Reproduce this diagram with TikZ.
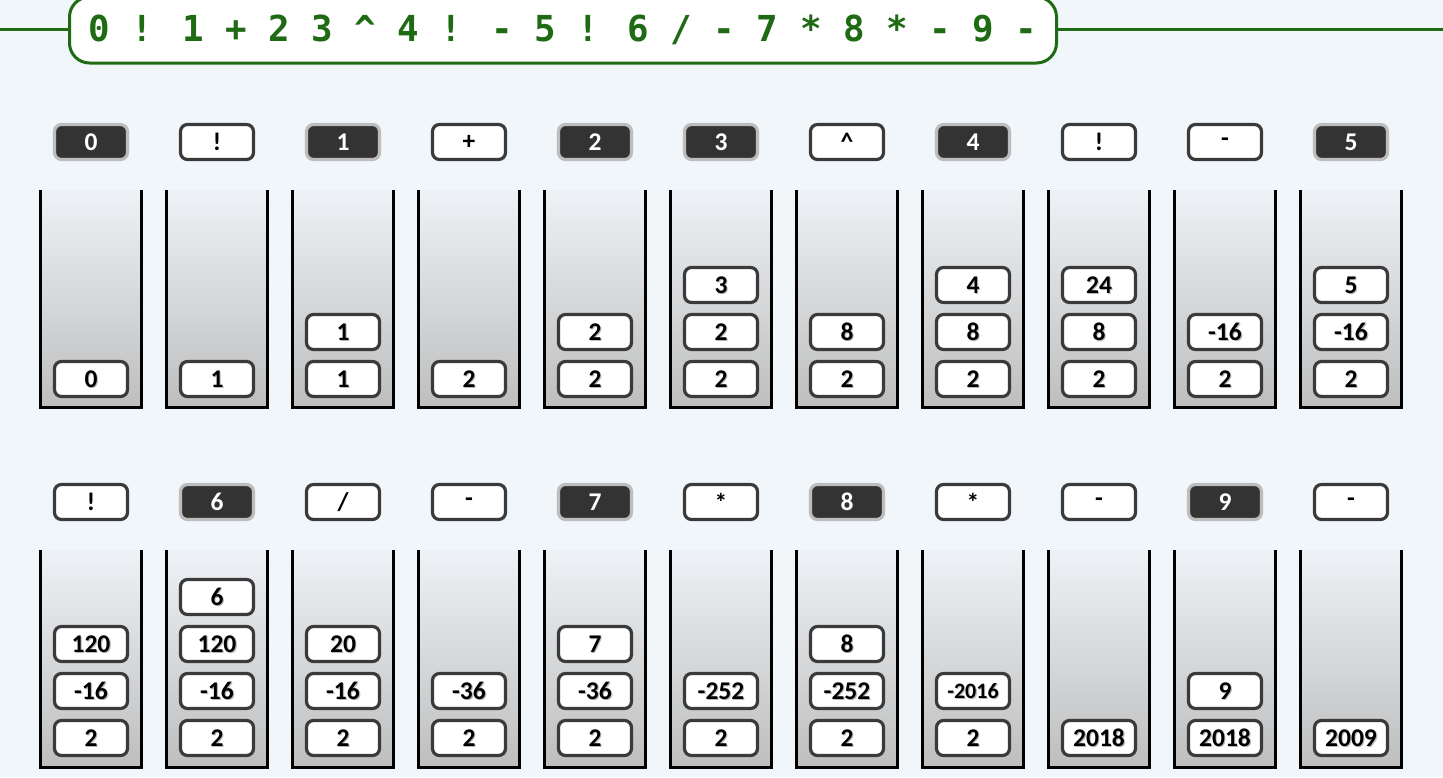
\documentclass[tikz,border=0pt]{standalone}
\usepackage{fontspec}
\setmainfont{Carlito}
\newfontfamily\titlefont{DejaVu Sans Mono}
\definecolor{bg}{HTML}{F1F6FB}
\definecolor{ttl}{HTML}{1E6B14}
\definecolor{itemborder}{HTML}{3A3A3A}
\definecolor{darktok}{HTML}{333333}
\definecolor{tokrim}{HTML}{BDBDBD}
\definecolor{stacktop}{HTML}{EEF2F6}
\definecolor{stackbot}{HTML}{BEBEBE}
\newcommand\smallnum[1]{{\fontsize{22}{22}\selectfont #1}}
\newcommand\slashsym{/}
\begin{document}
\begin{tikzpicture}[x=1pt,y=-1pt,
  boxbase/.style={rectangle, rounded corners=7, line width=3.2, minimum width=73, minimum height=35, inner sep=0, font=\fontsize{25.5}{25.5}\selectfont\bfseries},
  tokdark/.style={boxbase, fill=darktok, draw=tokrim, text=white},
  toklight/.style={boxbase, fill=white, draw=itemborder, text=black},
  item/.style={boxbase, fill=white, draw=itemborder},
  itemtext/.style={inner sep=0, text=black, font=\fontsize{25.5}{25.5}\selectfont\bfseries},
  itemshadow/.style={itemtext, text=black!28, xshift=1.1pt, yshift=-1.1pt},
  stackbox/.style={rectangle, minimum width=101, minimum height=217, inner sep=0, top color=stacktop, bottom color=stackbot, draw=none},
  wall/.style={line width=3, black},
  titlebox/.style={rectangle, rounded corners=20, draw=ttl, line width=3, fill=white, minimum width=987, minimum height=66, inner sep=0, text=ttl, font=\titlefont\bfseries\fontsize{35.8}{35.8}\selectfont},
  titleline/.style={draw=ttl, line width=3}]
\fill[bg] (0,0) rectangle (1443,777);
\useasboundingbox (0,0) rectangle (1443,777);
% title
\node[titlebox] (title) at (563,30) {0 ! 1 + 2 3 \textasciicircum{} 4 ! - 5 ! 6 / - 7 * 8 * - 9 -};
\coordinate (lend) at (0,29);
\coordinate (rend) at (1443,29);
\draw[titleline] (lend) -- (lend -| title.west);
\draw[titleline] (title.east |- rend) -- (rend);
% row 1 tokens
\foreach \t/\k [count=\i from 0] in {0/tokdark, !/toklight, 1/tokdark, +/toklight, 2/tokdark, 3/tokdark, \textasciicircum/toklight, 4/tokdark, !/toklight, -/toklight, 5/tokdark}
  \node[\k] (ta\i) at (91+126*\i, 142) {\t};
% row 1 stacks
\foreach \stk [count=\i from 0] in {{0},{1},{1,1},{2},{2,2},{2,2,3},{2,8},{2,8,4},{2,8,24},{2,-16},{2,-16,5}} {
  \node[stackbox] (sa\i) at (91+126*\i, 298.5) {};
  \draw[wall] (sa\i.north west) -- (sa\i.south west) -- (sa\i.south east) -- (sa\i.north east);
  \foreach \v [count=\j from 0] in \stk {
    \node[item] (ia\i x\j) at (91+126*\i, 379-47*\j) {};
    \node[itemshadow] (sha\i x\j) at (ia\i x\j) {\v};
    \node[itemtext] (txa\i x\j) at (ia\i x\j) {\v};
  }
}
% row 2 tokens
\foreach \t/\k [count=\i from 0] in {!/toklight, 6/tokdark, \slashsym/toklight, -/toklight, 7/tokdark, */toklight, 8/tokdark, */toklight, -/toklight, 9/tokdark, -/toklight}
  \node[\k] (tb\i) at (91+126*\i, 502) {\t};
% row 2 stacks
\foreach \stk [count=\i from 0] in {{2,-16,120},{2,-16,120,6},{2,-16,20},{2,-36},{2,-36,7},{2,-252},{2,-252,8},{2,\smallnum{-2016}},{2018},{2018,9},{2009}} {
  \node[stackbox] (sb\i) at (91+126*\i, 658.5) {};
  \draw[wall] (sb\i.north west) -- (sb\i.south west) -- (sb\i.south east) -- (sb\i.north east);
  \foreach \v [count=\j from 0] in \stk {
    \node[item] (ib\i x\j) at (91+126*\i, 738-47*\j) {};
    \node[itemshadow] (shb\i x\j) at (ib\i x\j) {\v};
    \node[itemtext] (txb\i x\j) at (ib\i x\j) {\v};
  }
}
\end{tikzpicture}
\end{document}
